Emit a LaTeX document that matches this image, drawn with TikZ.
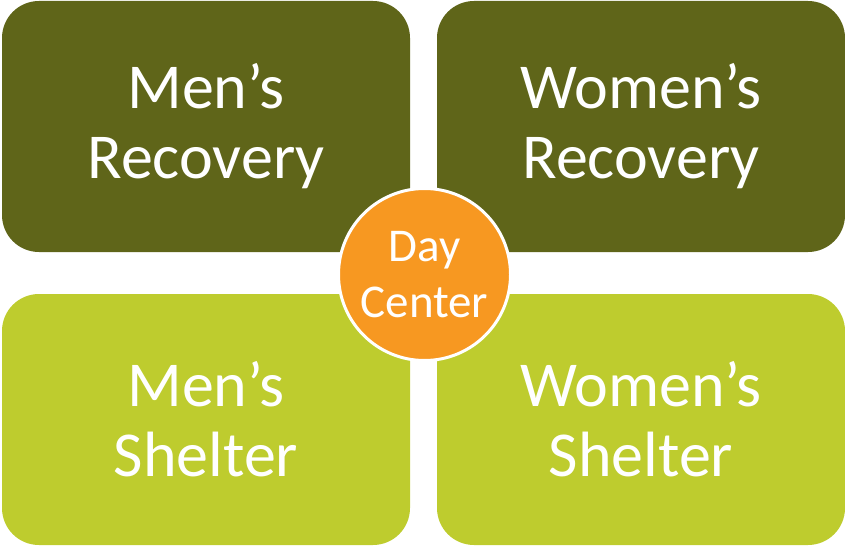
\documentclass[tikz,border=0pt]{standalone}
\usepackage{fontspec}
\setmainfont{Carlito}
\usetikzlibrary{positioning}

\definecolor{darkolive}{RGB}{95,101,25}
\definecolor{limegreen}{RGB}{190,204,46}
\definecolor{dayorange}{RGB}{247,152,33}

\begin{document}
\begin{tikzpicture}[x=1pt,y=-1pt,
    quarter/.style={rectangle, rounded corners=37pt, inner sep=0pt,
        minimum width=408pt, minimum height=251pt, align=center,
        text=white, font=\fontsize{64}{70}\selectfont},
    hub/.style={circle, fill=dayorange, draw=white, line width=3pt,
        minimum size=172pt, inner sep=0pt, align=center,
        text=white, font=\fontsize{47}{56}\selectfont}]
    \useasboundingbox (0,0) rectangle (845,548);

    % Recovery programmes
    \node[quarter, fill=darkolive] (mr) at (206,126.5) {Men’s\\Recovery};
    \node[quarter, fill=darkolive] (wr) at (641,126.5) {Women’s\\Recovery};

    % Shelters
    \node[quarter, fill=limegreen] (ms) at (206,419.5) {Men’s\\Shelter};
    \node[quarter, fill=limegreen] (ws) at (641,419.5) {Women’s\\Shelter};

    % Day center in the middle
    \node[hub] (dc) at (424.5,274.5) {Day\\Center};
\end{tikzpicture}
\end{document}
